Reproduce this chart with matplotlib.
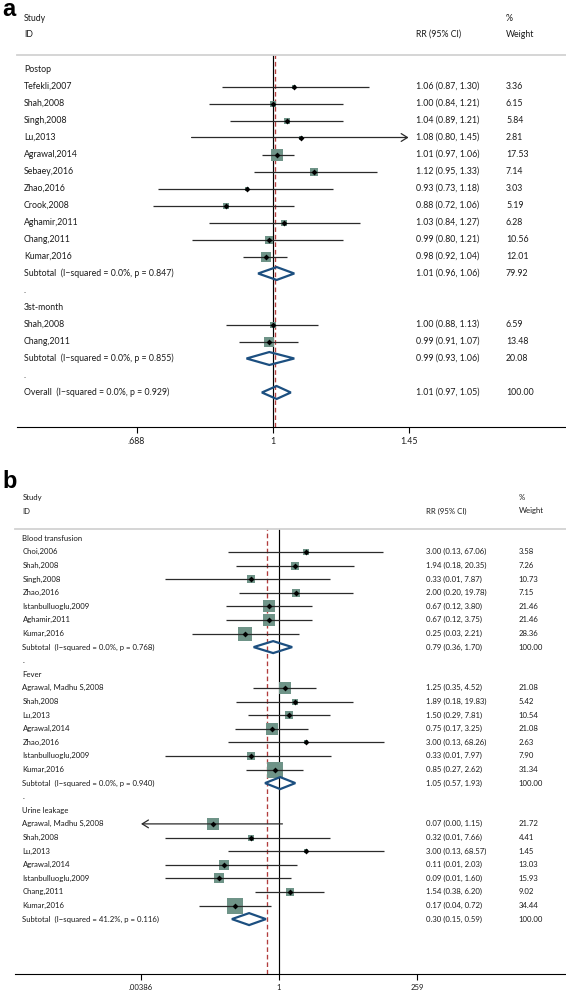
import matplotlib
matplotlib.use('Agg')
import matplotlib.pyplot as plt
from matplotlib.patches import Polygon
from matplotlib.ticker import NullLocator
from matplotlib.transforms import blended_transform_factory
import numpy as np

plt.rcParams['font.family'] = ['Lato', 'DejaVu Sans']

W, H = 566, 992

# ---- panel a : RR by time point
a_postop_ids = ['Tefekli,2007', 'Shah,2008', 'Singh,2008', 'Lu,2013', 'Agrawal,2014',
                'Sebaey,2016', 'Zhao,2016', 'Crook,2008', 'Aghamir,2011', 'Chang,2011', 'Kumar,2016']
a_postop_rr = [1.06, 1.00, 1.04, 1.08, 1.01, 1.12, 0.93, 0.88, 1.03, 0.99, 0.98]
a_postop_lo = [0.87, 0.84, 0.89, 0.80, 0.97, 0.95, 0.73, 0.72, 0.84, 0.80, 0.92]
a_postop_hi = [1.30, 1.21, 1.21, 1.45, 1.06, 1.33, 1.18, 1.06, 1.27, 1.21, 1.04]
a_postop_w = [3.36, 6.15, 5.84, 2.81, 17.53, 7.14, 3.03, 5.19, 6.28, 10.56, 12.01]
a_postop_sub = (1.01, 0.96, 1.06, 79.92, 'Subtotal  (I\u2212squared = 0.0%, p = 0.847)')

a_month_ids = ['Shah,2008', 'Chang,2011']
a_month_rr = [1.00, 0.99]
a_month_lo = [0.88, 0.91]
a_month_hi = [1.13, 1.07]
a_month_w = [6.59, 13.48]
a_month_sub = (0.99, 0.93, 1.06, 20.08, 'Subtotal  (I\u2212squared = 0.0%, p = 0.855)')

a_overall = (1.01, 0.97, 1.05, 100.00, 'Overall  (I\u2212squared = 0.0%, p = 0.929)')
a_ticks = [0.688, 1, 1.45]
a_ticklabels = ['.688', '1', '1.45']
a_refline = 1.006

# ---- panel b : complications
b_blood_ids = ['Choi,2006', 'Shah,2008', 'Singh,2008', 'Zhao,2016', 'Istanbulluoglu,2009',
               'Aghamir,2011', 'Kumar,2016']
b_blood_rr = [3.00, 1.94, 0.33, 2.00, 0.67, 0.67, 0.25]
b_blood_lo = [0.13, 0.18, 0.01, 0.20, 0.12, 0.12, 0.03]
b_blood_hi = [67.06, 20.35, 7.87, 19.78, 3.80, 3.75, 2.21]
b_blood_w = [3.58, 7.26, 10.73, 7.15, 21.46, 21.46, 28.36]
b_blood_sub = (0.79, 0.36, 1.70, 100.00, 'Subtotal  (I\u2212squared = 0.0%, p = 0.768)')

b_fever_ids = ['Agrawal, Madhu S,2008', 'Shah,2008', 'Lu,2013', 'Agrawal,2014', 'Zhao,2016',
               'Istanbulluoglu,2009', 'Kumar,2016']
b_fever_rr = [1.25, 1.89, 1.50, 0.75, 3.00, 0.33, 0.85]
b_fever_lo = [0.35, 0.18, 0.29, 0.17, 0.13, 0.01, 0.27]
b_fever_hi = [4.52, 19.83, 7.81, 3.25, 68.26, 7.97, 2.62]
b_fever_w = [21.08, 5.42, 10.54, 21.08, 2.63, 7.90, 31.34]
b_fever_sub = (1.05, 0.57, 1.93, 100.00, 'Subtotal  (I\u2212squared = 0.0%, p = 0.940)')

b_urine_ids = ['Agrawal, Madhu S,2008', 'Shah,2008', 'Lu,2013', 'Agrawal,2014',
               'Istanbulluoglu,2009', 'Chang,2011', 'Kumar,2016']
b_urine_rr = [0.07, 0.32, 3.00, 0.11, 0.09, 1.54, 0.17]
b_urine_lo = [0.00, 0.01, 0.13, 0.01, 0.01, 0.38, 0.04]
b_urine_hi = [1.15, 7.66, 68.57, 2.03, 1.60, 6.20, 0.72]
b_urine_w = [21.72, 4.41, 1.45, 13.03, 15.93, 9.02, 34.44]
b_urine_sub = (0.30, 0.15, 0.59, 100.00, 'Subtotal  (I\u2212squared = 41.2%, p = 0.116)')

b_ticks = [0.00386, 1, 259]
b_ticklabels = ['.00386', '1', '259']
b_refline = 0.61

BOX = '#6f9488'
DIAMOND = '#1c4f80'
REDLINE = '#b23c3c'
CI = '#2b2b2b'
TXT = '#1a1a1a'


def group_rows(title, ids, rr, lo, hi, w, sub, last=False):
	rows = [('head', title)]
	for i in range(len(ids)):
		rows.append(('study', ids[i], rr[i], lo[i], hi[i], w[i]))
	rows.append(('sub',) + sub)
	if not last:
		rows.append(('dot', '.'))
	return rows


def draw_forest(fig, rows, ticks, ticklabels, refline, lay):
	# axes spans the full width, text columns are placed in figure x
	left, right = lay['ax_x']
	top, bottom = lay['ax_y']
	ax = fig.add_axes([left / W, 1 - bottom / H, (right - left) / W, (bottom - top) / H])
	ax.set_xscale('log')

	# x scale: pixel of "1" and pixels per log unit
	one, ppu = lay['one'], lay['ppu']
	ax.set_xlim(np.exp((left - one) / ppu), np.exp((right - one) / ppu))
	y0, dy = lay['row0'], lay['dy']
	ax.set_ylim((bottom - y0) / dy, (top - y0) / dy)

	for s in ['left', 'right']:
		ax.spines[s].set_visible(False)
	ax.spines['top'].set_color('#d2d2d2')
	ax.spines['top'].set_linewidth(1.3)
	ax.spines['bottom'].set_linewidth(0.8)
	ax.set_yticks([])
	ax.set_xticks(ticks)
	ax.set_xticklabels(ticklabels)
	ax.xaxis.set_minor_locator(NullLocator())
	ax.tick_params(axis='x', direction='out', length=4.5, width=0.8, pad=2.5,
	               labelsize=lay['fs'], labelcolor=TXT)

	ax.axvline(1, color='black', lw=0.85, zorder=1)
	ax.axvline(refline, color=REDLINE, lw=0.95, ls=(0, (3.5, 2.2)), zorder=1)

	trans = blended_transform_factory(fig.transFigure, ax.transData)
	tmin, tmax = min(ticks), max(ticks)
	k = 2.7 * 0.72  # box side in points per sqrt(weight)
	arrow = '->,head_length=0.45,head_width=0.28'

	for i, r in enumerate(rows):
		kind = r[0]
		label = r[5] if kind == 'sub' else r[1]
		ax.text(lay['lab_x'] / W, i, label, transform=trans, ha='left', va='center',
		        fontsize=lay['fs'], color=TXT)
		if kind == 'study':
			_, name, rr, lo, hi, w = r
			a, b = max(lo, tmin), min(hi, tmax)
			if hi >= tmax:
				ax.annotate('', xy=(tmax, i), xytext=(a, i),
				            arrowprops=dict(arrowstyle=arrow, color=CI, lw=0.9, shrinkA=0, shrinkB=0))
			elif lo <= tmin:
				ax.annotate('', xy=(tmin, i), xytext=(b, i),
				            arrowprops=dict(arrowstyle=arrow, color=CI, lw=0.9, shrinkA=0, shrinkB=0))
			else:
				ax.plot([a, b], [i, i], color=CI, lw=0.9, zorder=3, solid_capstyle='butt')
			ax.plot(rr, i, marker='s', ms=k * np.sqrt(w), color=BOX, mew=0, zorder=2)
			ax.plot(rr, i, marker='D', ms=3.0, color='black', mew=0, zorder=4)
		elif kind == 'sub':
			_, rr, lo, hi, w, name = r
			h = lay['dh']
			ax.add_patch(Polygon([(lo, i), (rr, i - h), (hi, i), (rr, i + h)], closed=True,
			                     fill=False, edgecolor=DIAMOND, lw=1.6, zorder=4))
		else:
			continue
		ax.text(lay['rr_x'] / W, i, '%.2f (%.2f, %.2f)' % (rr, lo, hi), transform=trans,
		        ha='left', va='center', fontsize=lay['fs'], color=TXT)
		ax.text(lay['w_x'] / W, i, '%.2f' % w, transform=trans, ha='left', va='center',
		        fontsize=lay['fs'], color=TXT)

	# header
	hy1, hy2 = lay['head_y']
	fs = lay['fs']
	fig.text(lay['lab_x'] / W, 1 - hy1 / H, 'Study', ha='left', va='center', fontsize=fs, color=TXT)
	fig.text(lay['lab_x'] / W, 1 - hy2 / H, 'ID', ha='left', va='center', fontsize=fs, color=TXT)
	fig.text(lay['rr_x'] / W, 1 - hy2 / H, 'RR (95% CI)', ha='left', va='center', fontsize=fs, color=TXT)
	fig.text(lay['w_x'] / W, 1 - hy1 / H, '%', ha='left', va='center', fontsize=fs, color=TXT)
	fig.text(lay['w_x'] / W, 1 - hy2 / H, 'Weight', ha='left', va='center', fontsize=fs, color=TXT)
	return ax


rows_a = group_rows('Postop', a_postop_ids, a_postop_rr, a_postop_lo, a_postop_hi, a_postop_w, a_postop_sub)
rows_a += group_rows('3st-month', a_month_ids, a_month_rr, a_month_lo, a_month_hi, a_month_w, a_month_sub)
rows_a.append(('sub',) + a_overall)

rows_b = group_rows('Blood transfusion', b_blood_ids, b_blood_rr, b_blood_lo, b_blood_hi, b_blood_w, b_blood_sub)
rows_b += group_rows('Fever', b_fever_ids, b_fever_rr, b_fever_lo, b_fever_hi, b_fever_w, b_fever_sub)
rows_b += group_rows('Urine leakage', b_urine_ids, b_urine_rr, b_urine_lo, b_urine_hi, b_urine_w, b_urine_sub, last=True)

fig = plt.figure(figsize=(W / 100, H / 100), dpi=100)

lay_a = dict(ax_x=(16.5, 566), ax_y=(55.3, 427.3), one=273, ppu=365.0, row0=69.5, dy=17.0,
             dh=0.38, lab_x=24, rr_x=416, w_x=506, head_y=(18.3, 34.3), fs=6.3)
lay_b = dict(ax_x=(14.5, 566), ax_y=(529.3, 974), one=279, ppu=24.83, row0=538.3, dy=13.6,
             dh=0.44, lab_x=22.5, rr_x=426, w_x=518.5, head_y=(497.3, 511), fs=5.6)

draw_forest(fig, rows_a, a_ticks, a_ticklabels, a_refline, lay_a)
draw_forest(fig, rows_b, b_ticks, b_ticklabels, b_refline, lay_b)

fig.text(2 / W, 1 - 10 / H, 'a', ha='left', va='center', fontsize=17, fontweight='bold',
         family=['Liberation Sans', 'DejaVu Sans'])
fig.text(2 / W, 1 - 482 / H, 'b', ha='left', va='center', fontsize=17, fontweight='bold',
         family=['Liberation Sans', 'DejaVu Sans'])

fig.savefig('out.png', dpi=100)
